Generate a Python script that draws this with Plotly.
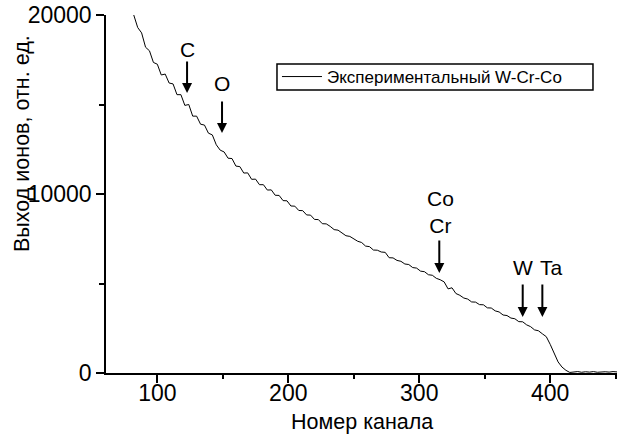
import plotly.graph_objects as go

# Channel numbers and ion yield
channels = [82, 85, 88, 91, 94, 97, 100, 103, 106, 109, 112, 115, 118, 121, 124, 127,
            130, 133, 136, 139, 142, 145, 148, 151, 154, 157, 160, 163, 166, 169, 172, 175,
            178, 181, 184, 187, 190, 193, 196, 199, 202, 205, 208, 211, 214, 217, 220, 223,
            226, 229, 232, 235, 238, 241, 244, 247, 250, 253, 256, 259, 262, 265, 268, 271,
            274, 277, 280, 283, 286, 289, 292, 295, 298, 301, 304, 307, 310, 313, 316, 319,
            322, 325, 328, 331, 334, 337, 340, 343, 346, 349, 352, 355, 358, 361, 364, 367,
            370, 373, 376, 379, 382, 385, 388, 391, 394, 397, 400, 403, 406, 409, 412, 415,
            418, 421, 424, 427, 430, 433, 436, 439, 442, 445, 448, 451]
yields = [20000, 19300, 19000, 18200, 18000, 17350, 17250, 16650, 16700, 16200, 16150, 15550,
          15550, 14950, 15000, 14350, 14350, 13900, 13850, 13400, 13300, 12750, 12450, 12350,
          12000, 11980, 11560, 11530, 11170, 11180, 10820, 10830, 10520, 10520, 10220, 10230,
          9930, 9920, 9630, 9620, 9330, 9320, 9080, 9070, 8830, 8820, 8580, 8570,
          8340, 8330, 8190, 8010, 7980, 7840, 7670, 7630, 7490, 7360, 7290, 7090,
          7060, 6870, 6860, 6760, 6740, 6440, 6430, 6290, 6240, 6090, 6060, 5890,
          5860, 5690, 5660, 5490, 5460, 5290, 5210, 5090, 4700, 4760, 4440, 4340,
          4190, 4130, 3970, 3960, 3820, 3810, 3640, 3630, 3470, 3410, 3240, 3210,
          3070, 3030, 2870, 2860, 2690, 2590, 2410, 2360, 2190, 2030, 1600, 1150,
          620, 330, 150, 30, 60, 80, 40, 70, 50, 80, 40, 60, 70, 50, 80, 60]

series_name = "Экспериментальный W-Cr-Co"

# Element markers: label text, label position, arrow tail and head
marker_labels = ["C", "O", "Co<br>Cr", "W", "Ta"]
marker_label_x = [122.7, 149.4, 316, 379.2, 401.3]
marker_label_y = [18050, 16200, 8970, 5870, 5870]
arrow_x = [122.7, 149.4, 315.3, 379, 394]
arrow_tail_y = [17490, 15250, 7490, 5030, 5030]
arrow_head_y = [15640, 13410, 5590, 3130, 3130]

FONT = "Liberation Sans, Arial, sans-serif"

fig = go.Figure()
fig.add_trace(go.Scatter(x=channels, y=yields, mode="lines", name=series_name,
                         line=dict(color="black", width=1)))

for lab, lx, ly in zip(marker_labels, marker_label_x, marker_label_y):
    fig.add_annotation(x=lx, y=ly, xref="x", yref="y", text=lab, showarrow=False,
                       font=dict(family=FONT, size=21, color="black"),
                       xanchor="center", yanchor="middle")

for axx, ty, hy in zip(arrow_x, arrow_tail_y, arrow_head_y):
    fig.add_annotation(x=axx, y=hy, ax=axx, ay=ty, xref="x", yref="y",
                       axref="x", ayref="y", text="", showarrow=True,
                       arrowhead=2, arrowsize=1.0, arrowwidth=2, arrowcolor="black")

# Axis titles as annotations
fig.add_annotation(x=-0.1644, y=12850, xref="paper", yref="y",
                   text="Выход ионов, отн. ед.", textangle=-90, showarrow=False,
                   font=dict(family=FONT, size=21.5, color="black"),
                   xanchor="center", yanchor="middle")
fig.add_annotation(x=0.5, y=-0.136, xref="paper", yref="paper",
                   text="Номер канала", showarrow=False,
                   font=dict(family=FONT, size=21.5, color="black"),
                   xanchor="center", yanchor="middle")

# legend frame
fig.add_shape(type="rect", xref="paper", yref="paper",
              x0=0.3346, x1=0.953, y0=0.7905, y1=0.863,
              line=dict(color="black", width=1.5), fillcolor="rgba(0,0,0,0)")

fig.update_layout(
    width=619, height=434,
    margin=dict(l=106, r=2, t=15, b=61, autoexpand=False),
    plot_bgcolor="white", paper_bgcolor="white",
    font=dict(family=FONT, color="black"),
    showlegend=True,
    legend=dict(x=0.3346, y=0.8268, xanchor="left", yanchor="middle",
                borderwidth=0, bgcolor="rgba(0,0,0,0)",
                font=dict(family=FONT, size=17, color="black"),
                tracegroupgap=0, itemwidth=40),
)
fig.update_xaxes(range=[60.8, 451], automargin=False, showline=True, linecolor="black",
                 linewidth=1.5, showgrid=False, zeroline=False, ticks="outside", ticklen=8,
                 tickwidth=1.5, tickcolor="black", dtick=100, tick0=0, ticklabelstandoff=-9,
                 tickfont=dict(family=FONT, size=23, color="black"),
                 minor=dict(ticks="outside", ticklen=4, dtick=50, tick0=0,
                            tickcolor="black", tickwidth=1.5, showgrid=False))
fig.update_yaxes(range=[0, 20000], automargin=False, showline=True, linecolor="black",
                 linewidth=1.5, showgrid=False, zeroline=False, ticks="outside", ticklen=8,
                 tickwidth=1.5, tickcolor="black", dtick=10000, tick0=0,
                 exponentformat="none", tickformat="d",
                 tickfont=dict(family=FONT, size=23, color="black"),
                 minor=dict(ticks="outside", ticklen=5, dtick=5000, tick0=0,
                            tickcolor="black", tickwidth=1.5, showgrid=False))

# remove the default 8px page margin so the figure fills the window exactly
fig.write_html("out.html", config={"displayModeBar": False},
               post_script="document.body.style.margin='0';")
